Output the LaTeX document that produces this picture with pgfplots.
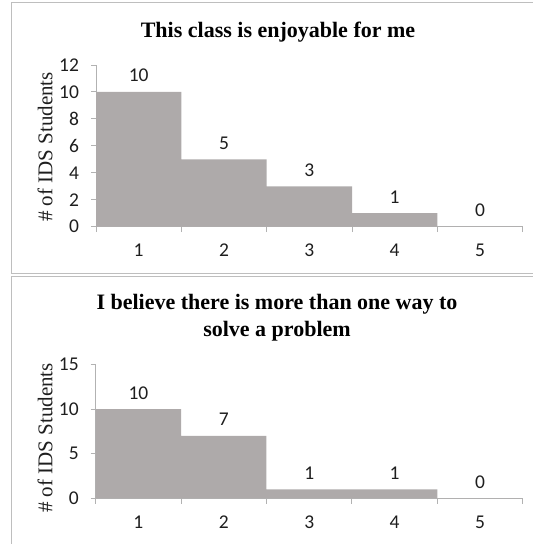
\documentclass[border=0pt]{standalone}
\usepackage{pgfplots}
\pgfplotsset{compat=1.18}
\usepackage{fontspec}
\setmainfont{Liberation Serif}
\newfontfamily\calibri{Carlito}

\definecolor{barfill}{RGB}{174,170,170}
\definecolor{axisgray}{RGB}{178,178,178}
\definecolor{framegray}{RGB}{190,190,190}
\definecolor{numcol}{RGB}{30,30,30}

\pgfplotsset{
  surveybars/.style={
    scale only axis,
    anchor=south west,
    xmin=0.5, xmax=5.5, ymin=0,
    axis x line*=bottom, axis y line*=left,
    axis line style={draw=axisgray, line width=0.9pt},
    xtick={1,2,3,4,5},
    minor xtick={0.5,1.5,2.5,3.5,4.5,5.5},
    major x tick style={draw=none},
    minor x tick style={draw=axisgray, line width=0.9pt},
    y tick style={draw=axisgray, line width=0.9pt},
    tick align=outside,
    major tick length=5pt, minor tick length=5.5pt,
    /pgf/number format/assume math mode=true,
    tick label style={font=\calibri\fontsize{19.5}{22}\selectfont, text=numcol},
    xticklabel style={anchor=base, yshift=-25pt},
    yticklabel style={anchor=east, xshift=-8.5pt},
    ybar, bar width=1, bar shift=0pt,
    nodes near coords,
    every node near coord/.append style={anchor=base, yshift=10pt,
      font=\calibri\fontsize{19.5}{22}\selectfont, text=numcol},
  }
}

\pgfplotstableread{
score count
1 10
2 5
3 3
4 1
5 0
}\enjoyable

\pgfplotstableread{
score count
1 10
2 7
3 1
4 1
5 0
}\oneway

\begin{document}
\begin{tikzpicture}
\useasboundingbox (0pt,0pt) rectangle (533pt,544pt);
% chart frames
\begin{scope}
\clip (0pt,0pt) rectangle (533pt,544pt);
\draw[framegray, line width=1pt] (11.3pt,270pt) rectangle (545pt,541pt);
\draw[framegray, line width=1pt] (11pt,-5pt) rectangle (545pt,267.3pt);
\end{scope}

% top chart
\begin{axis}[surveybars, at={(96pt,317.3pt)}, width=426.7pt, height=161.7pt,
  ymax=12, ytick={0,2,4,6,8,10,12}]
  \addplot[fill=barfill, draw=none] table[x=score, y=count] {\enjoyable};
\end{axis}
\node[font=\bfseries\fontsize{22}{26}\selectfont] at (278pt,511.6pt) {This class is enjoyable for me};
\node[rotate=90, font=\fontsize{21}{24}\selectfont, text=numcol] at (45pt,397pt) {\# of IDS Students};

% bottom chart
\begin{axis}[surveybars, at={(95.7pt,45.7pt)}, width=427pt, height=133.7pt,
  ymax=15, ytick={0,5,10,15}]
  \addplot[fill=barfill, draw=none] table[x=score, y=count] {\oneway};
\end{axis}
\node[font=\bfseries\fontsize{22}{27}\selectfont, align=center] at (277pt,226.5pt)
  {I believe there is more than one way to\\solve a problem};
\node[rotate=90, font=\fontsize{21}{24}\selectfont, text=numcol] at (45pt,106pt) {\# of IDS Students};
\end{tikzpicture}
\end{document}
